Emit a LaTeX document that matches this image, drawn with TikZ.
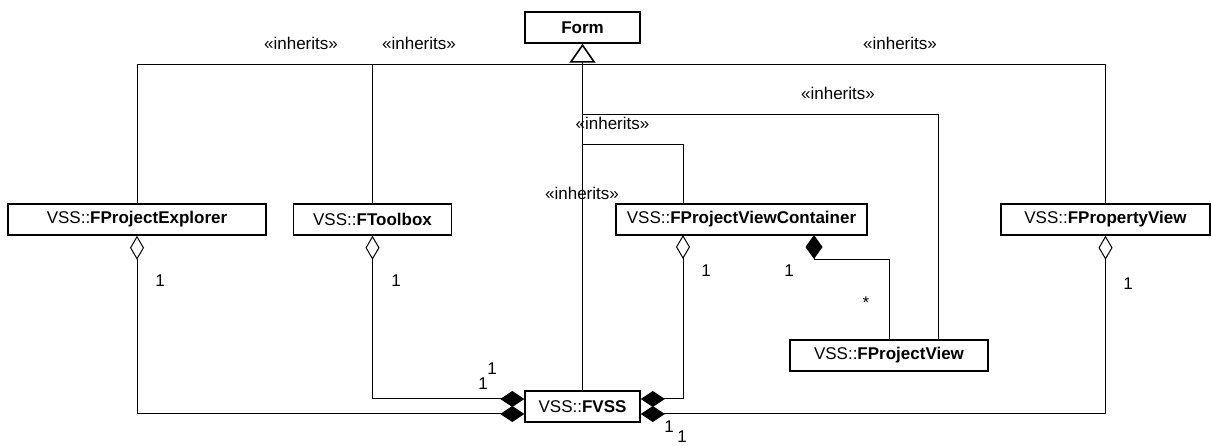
\documentclass[tikz,border=0pt]{standalone}
\usepackage{fontspec}
\setmainfont{Liberation Sans}
\usetikzlibrary{arrows.meta}
\begin{document}
\begin{tikzpicture}[x=1pt,y=-1pt,
  txt/.style={font=\fontsize{17}{20}\selectfont, inner sep=0pt},
  cls/.style={draw, line width=1.5pt, minimum height=31pt, inner sep=0pt,
              font=\fontsize{17}{20}\selectfont},
  inh/.style={line width=1pt},
  agg/.style={line width=1pt,
              {Diamond[length=24pt,width=16pt]}-{Diamond[open,length=24pt,width=14pt]}},
  comp/.style={line width=1pt, -{Diamond[length=24pt,width=17pt]}},
  gen/.style={line width=1.6pt, -{Triangle[open,length=19pt,width=26pt]}}
]
\useasboundingbox (0,0) rectangle (1211,446);

% classes
\node[cls, minimum width=115pt] (Form) at (582.5,27.5) {\textbf{Form}};
\node[cls, minimum width=258pt] (FProjectExplorer) at (137,219.5) {VSS::\textbf{FProjectExplorer}};
\node[cls, minimum width=158pt] (FToolbox) at (372.5,219.5) {VSS::\textbf{FToolbox}};
\node[cls, minimum width=251pt] (FProjectViewContainer) at (741.5,219.5) {VSS::\textbf{FProjectViewContainer}};
\node[cls, minimum width=209pt] (FPropertyView) at (1105.5,219.5) {VSS::\textbf{FPropertyView}};
\node[cls, minimum width=198pt] (FProjectView) at (889,355.5) {VSS::\textbf{FProjectView}};
\node[cls, minimum width=115pt] (FVSS) at (582.5,406.5) {VSS::\textbf{FVSS}};

% routing points
\coordinate (rail) at (0,65);
\coordinate (jA) at (582.5,145);
\coordinate (jB) at (582.5,115);
\coordinate (pvcAgg) at (683,235);
\coordinate (pvcComp) at (814,235);
\coordinate (compTurn) at (814,259.5);
\coordinate (pvInh) at (938,340);

% generalisation to Form
\draw[inh] (FProjectExplorer.north) |- (rail -| Form.south);
\draw[inh] (FToolbox.north) |- (rail -| Form.south);
\draw[inh] (FPropertyView.north) |- (rail -| Form.south);
\draw[inh] (pvcAgg |- FProjectViewContainer.north) |- (jA);
\draw[inh] (pvInh) |- (jB);
\draw[gen] (FVSS.north) -- (Form.south);

% aggregations from FVSS
\draw[agg] ([yshift=-7.5pt]FVSS.west) -| (FProjectExplorer.south);
\draw[agg] ([yshift=7.5pt]FVSS.west) -| (FToolbox.south);
\draw[agg] ([yshift=7.5pt]FVSS.east) -| (pvcAgg);
\draw[agg] ([yshift=-7.5pt]FVSS.east) -| (FPropertyView.south);

% composition of project views
\draw[comp] (FProjectView.north) |- (compTurn) -- (pvcComp);

% stereotypes
\node[txt] (s1) at (301,43) {«inherits»};
\node[txt] (s2) at (419,43) {«inherits»};
\node[txt] (s3) at (900,43) {«inherits»};
\node[txt] (s4) at (838,93) {«inherits»};
\node[txt] (s5) at (612.5,123) {«inherits»};
\node[txt] (s6) at (582,193) {«inherits»};

% multiplicities
\node[txt] (m1) at (160,281) {1};
\node[txt] (m2) at (396,281) {1};
\node[txt] (m3) at (706,271) {1};
\node[txt] (m4) at (789,271) {1};
\node[txt] (m5) at (866,302.5) {*};
\node[txt] (m6) at (1128,284) {1};
\node[txt] (m7) at (492,369) {1};
\node[txt] (m8) at (483,384) {1};
\node[txt] (m9) at (669,427) {1};
\node[txt] (m10) at (682,437) {1};
\end{tikzpicture}
\end{document}
